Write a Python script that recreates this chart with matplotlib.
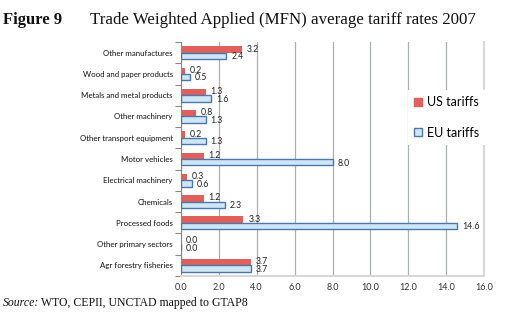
import matplotlib
matplotlib.use("Agg")
import matplotlib.pyplot as plt
import numpy as np
from matplotlib.patches import Patch

categories = ["Other manufactures", "Wood and paper products", "Metals and metal products",
              "Other machinery", "Other transport equipment", "Motor vehicles",
              "Electrical machinery", "Chemicals", "Processed foods",
              "Other primary sectors", "Agr forestry fisheries"]
us_tariffs = [3.2, 0.2, 1.3, 0.8, 0.2, 1.2, 0.3, 1.2, 3.3, 0.0, 3.7]
eu_tariffs = [2.4, 0.5, 1.6, 1.3, 1.3, 8.0, 0.6, 2.3, 14.6, 0.0, 3.7]
xticks = [0, 2, 4, 6, 8, 10, 12, 14, 16]

W, H = 509, 327
fig = plt.figure(figsize=(W/100, H/100), dpi=100)
ax = fig.add_axes([181/W, 1-276/H, (484-181)/W, (276-42)/H])

lab_font = "Lato"
y = np.arange(len(categories))
bh = 0.3
red = "#e0605c"
blue_face = "#cfe6f5"
blue_edge = "#4a78ab"

ax.barh(y - bh/2, us_tariffs, height=bh, color=red, zorder=3)
ax.barh(y + bh/2, eu_tariffs, height=bh, facecolor=blue_face, edgecolor=blue_edge, linewidth=1.0, zorder=3)

for yi, v in zip(y, us_tariffs):
    ax.text(v + 0.25, yi - bh/2 - 0.02, f"{v:.1f}", fontsize=6.3, va="center", ha="left", family=lab_font, color="#222222", zorder=4)
for yi, v in zip(y, eu_tariffs):
    ax.text(v + 0.25, yi + bh/2 + 0.04, f"{v:.1f}", fontsize=6.3, va="center", ha="left", family=lab_font, color="#222222", zorder=4)

ax.set_xlim(0, 16)
ax.set_ylim(len(categories) - 0.5, -0.5)
ax.set_xticks(xticks)
ax.set_xticklabels([f"{t:.1f}" for t in xticks], fontsize=6.5, family=lab_font, color="#333333")
ax.set_yticks(y)
ax.set_yticklabels(categories, fontsize=5.7, family=lab_font, color="#111111")
ax.tick_params(axis="y", length=0, pad=6)
ax.set_yticks(np.arange(-0.5, len(categories) + 0.5, 1), minor=True)
ax.tick_params(axis="y", which="minor", length=4, color="#888888", width=0.8)
ax.tick_params(axis="x", length=0, pad=5)

ax.grid(axis="x", color="#a8b0b0", linewidth=0.9, zorder=0)
ax.spines["top"].set_visible(False)
ax.spines["left"].set_color("#888888")
ax.spines["left"].set_linewidth(0.8)
ax.spines["bottom"].set_color("#d8d8d8")
ax.spines["bottom"].set_linewidth(1.5)
ax.spines["right"].set_color("#d8d8d8")
ax.spines["right"].set_linewidth(1.5)

handles = [Patch(facecolor=red, edgecolor=red, label="US tariffs"),
           Patch(facecolor=blue_face, edgecolor=blue_edge, label="EU tariffs")]
leg = ax.legend(handles=handles, loc="upper left", bbox_to_anchor=((402-181)/(484-181), 1-(84-42)/(276-42)),
                frameon=True, fancybox=False, edgecolor="none", facecolor="white", framealpha=1,
                prop={"family": lab_font, "size": 9}, handlelength=0.6, handleheight=0.6,
                handletextpad=0.4, labelspacing=1.45, borderpad=0.5)
leg.set_zorder(5)

fig.text(3/W, 1-20/H, "Figure 9", fontsize=12, fontweight="bold", family="Liberation Serif", va="center", ha="left", color="#111111")
fig.text(90/W, 1-20/H, "Trade Weighted Applied (MFN) average tariff rates 2007", fontsize=12.2, family="Liberation Serif", va="center", ha="left", color="#111111")
fig.text(3/W, 1-303/H, "Source:", fontsize=8.5, style="italic", family="Liberation Serif", va="center", ha="left", color="#111111")
fig.text(41/W, 1-303/H, "WTO, CEPII, UNCTAD mapped to GTAP8", fontsize=8.5, family="Liberation Serif", va="center", ha="left", color="#111111")

fig.savefig("out.png", dpi=100)
